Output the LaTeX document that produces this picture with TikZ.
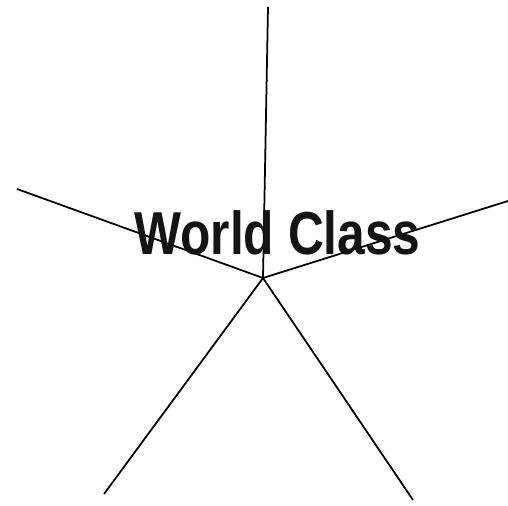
\documentclass[tikz,border=0pt]{standalone}
\usepackage{fontspec}
\usepackage{graphicx}
\setmainfont{Liberation Sans}
\definecolor{inkgray}{HTML}{141414}
\tikzset{spoke/.style={line width=1pt, black}}

\begin{document}
\begin{tikzpicture}[x=0.02cm, y=-0.02cm]
    \useasboundingbox (0,0) rectangle (508,506);

    % Hub and spoke ends
    \coordinate (hub) at (263, 278);
    \coordinate (top) at (268, 7);
    \coordinate (left) at (17, 189);
    \coordinate (right) at (508, 201);
    \coordinate (lowleft) at (104, 494);
    \coordinate (lowright) at (413, 500);

    % Spokes
    \draw[spoke] (hub) -- (top);
    \draw[spoke] (hub) -- (left);
    \draw[spoke] (hub) -- (right);
    \draw[spoke] (hub) -- (lowleft);
    \draw[spoke] (hub) -- (lowright);

    % Label
    \node[anchor=base, inner sep=0pt, text=inkgray, font=\fontsize{34.5}{40}\selectfont\bfseries] (title) at (277.5, 255) {\scalebox{0.82}[1]{World Class}};
\end{tikzpicture}
\end{document}
